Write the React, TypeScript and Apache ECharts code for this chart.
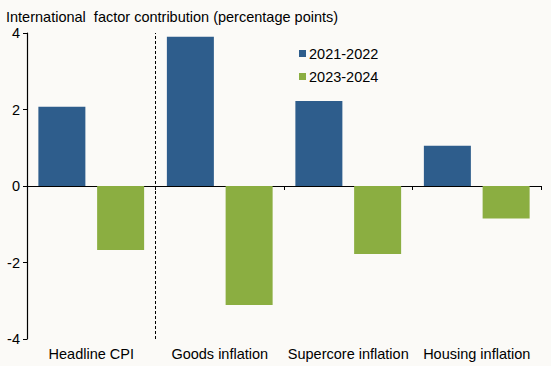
import React, { useEffect, useRef } from "react";
import * as echarts from "echarts";

const categories = ["Headline CPI", "Goods inflation", "Supercore inflation", "Housing inflation"];
const series2122 = [2.07, 3.9, 2.22, 1.05];
const series2324 = [-1.67, -3.11, -1.78, -0.85];
const seriesNames = ["2021-2022", "2023-2024"];
const titleText = "International  factor contribution (percentage points)";
const separatorAt = [1];

const FONT = "Liberation Sans, Arial, sans-serif";
const FS = 14.5;

export default function App() {
  const ref = useRef<HTMLDivElement>(null);
  useEffect(() => {
    const chart = echarts.init(ref.current!, null, { renderer: "svg" });
    chart.setOption({
      animation: false,
      backgroundColor: "#FBFAF7",
      textStyle: { fontFamily: FONT },
      title: {
        text: titleText,
        left: 1,
        top: 4,
        textStyle: { fontFamily: FONT, fontSize: FS, fontWeight: "normal", color: "#000" },
      },
      legend: {
        data: seriesNames,
        orient: "vertical",
        left: 294,
        top: 41,
        itemWidth: 7,
        itemHeight: 7,
        itemGap: 8,
        icon: "rect",
        textStyle: { fontFamily: FONT, fontSize: FS, color: "#000", padding: [0, 0, 0, -2] },
      },
      grid: { left: 27, right: 10, top: 33, bottom: 27, containLabel: false },
      xAxis: [
        {
          type: "category",
          data: categories,
          axisLine: { onZero: true, lineStyle: { color: "#000", width: 1.2 } },
          axisTick: { show: true, interval: 0, length: 4, inside: false, lineStyle: { color: "#000" } },
          axisLabel: { show: false },
          splitLine: { show: false },
        },
        {
          type: "category",
          data: categories,
          position: "bottom",
          axisLine: { show: false, onZero: false },
          axisTick: { show: false },
          axisLabel: { show: true, interval: 0, fontFamily: FONT, fontSize: FS, color: "#000", margin: 7 },
        },
        {
          type: "value",
          min: 0,
          max: categories.length,
          show: false,
        },
      ],
      yAxis: {
        type: "value",
        min: -4,
        max: 4,
        interval: 2,
        axisLine: { show: true, lineStyle: { color: "#000", width: 1.2 } },
        axisTick: { show: true, length: 4, lineStyle: { color: "#000" } },
        axisLabel: { fontFamily: FONT, fontSize: FS, color: "#000", margin: 7 },
        splitLine: { show: false },
      },
      series: [
        {
          name: seriesNames[0],
          type: "bar",
          xAxisIndex: 0,
          data: series2122,
          barWidth: 47,
          barGap: "25%",
          itemStyle: { color: "#2E5D8C" },
        },
        {
          name: seriesNames[1],
          type: "bar",
          xAxisIndex: 0,
          data: series2324,
          barWidth: 47,
          barGap: "25%",
          itemStyle: { color: "#8BAE41" },
        },
        {
          name: "separator",
          type: "line",
          xAxisIndex: 2,
          data: [],
          markLine: {
            silent: true,
            symbol: "none",
            label: { show: false },
            lineStyle: { color: "#000", type: [3, 2], width: 1 },
            data: separatorAt.map((x) => ({ xAxis: x })),
          },
        },
      ],
    });
    return () => chart.dispose();
  }, []);
  return <div ref={ref} style={{ width: 551, height: 366, position: "absolute", left: 0, top: 0 }} />;
}
